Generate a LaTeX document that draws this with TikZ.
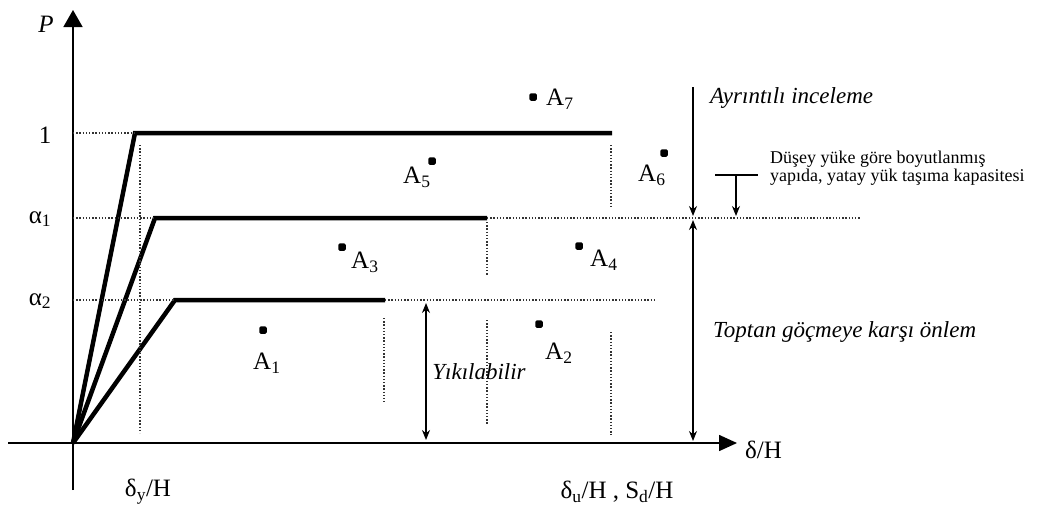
\documentclass[tikz,border=0pt]{standalone}
\usepackage{fontspec}
\setmainfont{Liberation Serif}
\usetikzlibrary{arrows.meta}
\begin{document}
\begin{tikzpicture}[x=1pt,y=-1pt,
  thickline/.style={line width=4.5pt, line join=miter},
  axisline/.style={line width=1.6pt},
  dotline/.style={line width=1.1pt, dash pattern=on 1.4pt off 1.8pt, black!80},
  ptdot/.style={fill, rectangle, rounded corners=1.5pt, minimum size=7.5pt, inner sep=0pt},
  lbl/.style={font=\fontsize{25}{28}\selectfont, inner sep=0pt},
  note/.style={font=\fontsize{23}{26}\selectfont\itshape, inner sep=0pt},
  smalltxt/.style={font=\fontsize{18}{17.5}\selectfont, inner sep=0pt, align=left},
  dimarrow/.style={line width=1.3pt, -{Stealth[length=10pt,width=8pt]}},
  dimboth/.style={line width=1.3pt, {Stealth[length=10pt,width=8pt]}-{Stealth[length=10pt,width=8pt]}},
]
\useasboundingbox (0,0) rectangle (1041,507);

% axes
\coordinate (O) at (73,443);
\coordinate (ybot) at (73,490);
\coordinate (ytop) at (73,10);
\coordinate (xl) at (8,443);
\coordinate (xr) at (737,443);
\draw[axisline,-{Triangle[length=17pt,width=19pt]}] (ybot) -- (ytop);
\draw[axisline,-{Triangle[length=18pt,width=16pt]}] (xl) -- (xr);

% capacity curves
\coordinate (c1) at (135,133); \coordinate (e1) at (612,133);
\coordinate (c2) at (155,218); \coordinate (e2) at (487,218);
\coordinate (c3) at (175,300); \coordinate (e3) at (385,300);
\draw[thickline] (O) -- (c1) -- (e1);
\draw[thickline] (O) -- (c2) -- (e2);
\draw[thickline] (O) -- (c3) -- (e3);

% dotted guide lines
\coordinate (y1) at (73,133);
\coordinate (y2) at (73,218);
\coordinate (y3) at (73,300);
\coordinate (r2) at (860,218);
\coordinate (r3) at (655,300);
\draw[dotline] (y1) -- (c1);
\draw[dotline] (y2) -- (c2);
\draw[dotline] (e2) -- (r2);
\draw[dotline] (y3) -- (c3);
\draw[dotline] (e3) -- (r3);
\coordinate (v1a) at (140,145); \coordinate (v1b) at (140,433);
\coordinate (v2a) at (384,318); \coordinate (v2b) at (384,402);
\coordinate (v3a) at (487,222); \coordinate (v3b) at (487,275);
\coordinate (v3c) at (487,320); \coordinate (v3d) at (487,425);
\coordinate (v4a) at (611,145); \coordinate (v4b) at (611,207);
\coordinate (v4c) at (611,332); \coordinate (v4d) at (611,435);
\draw[dotline] (v1a) -- (v1b);
\draw[dotline] (v2a) -- (v2b);
\draw[dotline] (v3a) -- (v3b);
\draw[dotline] (v3c) -- (v3d);
\draw[dotline] (v4a) -- (v4b);
\draw[dotline] (v4c) -- (v4d);

% axis labels
\node[lbl, font=\fontsize{25}{28}\selectfont\itshape] (P) at (46,24) {P};
\node[lbl] (one) at (45,135) {1};
\node[lbl] (al1) at (40,219) {α\textsubscript{1}};
\node[lbl] (al2) at (40,301) {α\textsubscript{2}};
\node[lbl] (dy) at (148,492) {δ\textsubscript{y}/H};
\node[lbl] (du) at (617,492) {δ\textsubscript{u}/H , S\textsubscript{d}/H};
\node[lbl, anchor=west] (dH) at (745,450) {δ/H};

% points
\node[ptdot] (p7) at (533,97) {};
\node[ptdot] (p5) at (432,161) {};
\node[ptdot] (p6) at (664,153) {};
\node[ptdot] (p3) at (342,247) {};
\node[ptdot] (p4) at (579,246) {};
\node[ptdot] (p1) at (263,330) {};
\node[ptdot] (p2) at (539,324) {};
\node[lbl, anchor=west] (A7) at (546,99) {A\textsubscript{7}};
\node[lbl, anchor=west] (A5) at (403,177) {A\textsubscript{5}};
\node[lbl, anchor=west] (A6) at (638,175) {A\textsubscript{6}};
\node[lbl, anchor=west] (A3) at (351,262) {A\textsubscript{3}};
\node[lbl, anchor=west] (A4) at (590,260) {A\textsubscript{4}};
\node[lbl, anchor=west] (A1) at (253,363) {A\textsubscript{1}};
\node[lbl, anchor=west] (A2) at (545,353) {A\textsubscript{2}};

% Yikilabilir
\coordinate (yk1) at (426,303);
\coordinate (yk2) at (426,440);
\draw[dimboth] (yk1) -- (yk2);
\node[note] (yk) at (479,372) {Yıkılabilir};

% right-hand zone arrows
\coordinate (ra1) at (693,87);
\coordinate (ra2) at (693,216);
\coordinate (ra3) at (693,220);
\coordinate (ra4) at (693,441);
\draw[dimarrow] (ra1) -- (ra2);
\draw[dimboth] (ra3) -- (ra4);
\node[note, anchor=west] (ayr) at (710,98) {Ayrıntılı inceleme};
\node[note, anchor=west] (top) at (713,332) {Toptan göçmeye karşı önlem};

% T-marker
\coordinate (tl) at (715,175);
\coordinate (tr) at (758,175);
\coordinate (tm) at (736,175);
\coordinate (tb) at (736,216);
\draw[line width=1.3pt] (tl) -- (tr);
\draw[dimarrow] (tm) -- (tb);
\node[smalltxt, anchor=west] (dus) at (770,168) {Düşey yüke göre boyutlanmış\\yapıda, yatay yük taşıma kapasitesi};
\end{tikzpicture}
\end{document}
